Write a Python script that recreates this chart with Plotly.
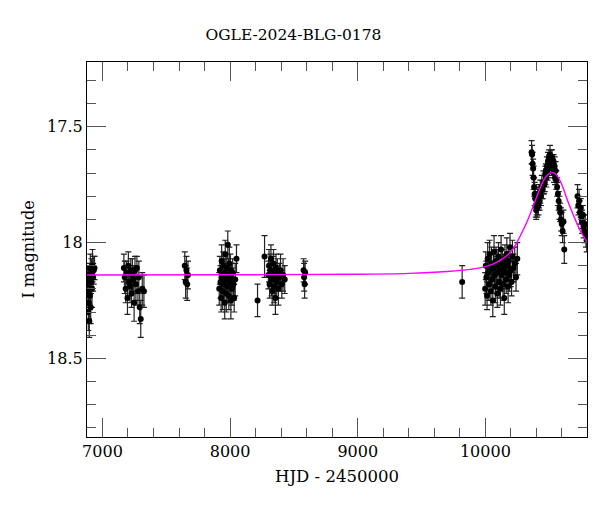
import plotly.graph_objects as go

# ---- data (HJD - 2450000, I mag, error) ----
tA = [6884, 6887, 6889, 6892, 6894, 6897, 6899, 6902, 6905, 6908, 6911, 6914, 6918, 6922, 6927, 6932, 6938]
mA = [18.16, 18.21, 18.30, 18.18, 18.26, 18.34, 18.14, 18.23, 18.11, 18.28, 18.17, 18.13, 18.20, 18.10, 18.15, 18.12, 18.11]
eA = [0.06, 0.07, 0.08, 0.06, 0.07, 0.07, 0.05, 0.06, 0.06, 0.07, 0.05, 0.06, 0.08, 0.07, 0.06, 0.06, 0.05]

tB = [7168, 7175, 7182, 7190, 7196, 7203, 7210, 7216, 7222, 7228, 7235, 7241, 7248, 7255, 7262, 7270, 7278, 7285, 7292, 7300, 7312, 7325]
mB = [18.11, 18.15, 18.20, 18.13, 18.24, 18.10, 18.17, 18.19, 18.12, 18.22, 18.14, 18.16, 18.26, 18.12, 18.18, 18.11, 18.21, 18.15, 18.28, 18.33, 18.20, 18.21]
eB = [0.06, 0.07, 0.06, 0.05, 0.07, 0.06, 0.06, 0.07, 0.05, 0.06, 0.07, 0.06, 0.08, 0.06, 0.07, 0.05, 0.06, 0.07, 0.07, 0.08, 0.07, 0.07]

tC = [7645, 7652, 7658, 7664, 7670]
mC = [18.10, 18.17, 18.12, 18.18, 18.14]
eC = [0.06, 0.07, 0.06, 0.07, 0.06]

tD = [7915, 7920, 7925, 7930, 7934, 7938, 7942, 7946, 7950, 7954, 7958, 7962, 7966, 7970, 7974,
      7978, 7982, 7986, 7990, 7994, 7998, 8002, 8006, 8010, 8015, 8020, 8026, 8032, 8040, 8050]
mD = [18.20, 18.12, 18.17, 18.24, 18.08, 18.15, 18.21, 18.10, 18.18, 18.13, 18.26, 18.05, 18.16, 18.22, 18.11,
      18.19, 18.01, 18.14, 18.23, 18.09, 18.17, 18.12, 18.25, 18.15, 18.20, 18.13, 18.18, 18.24, 18.16, 18.07]
eD = [0.07, 0.06, 0.07, 0.06, 0.07, 0.06, 0.08, 0.06, 0.07, 0.06, 0.07, 0.06, 0.07, 0.08, 0.06,
      0.07, 0.06, 0.07, 0.06, 0.07, 0.06, 0.07, 0.08, 0.06, 0.07, 0.06, 0.07, 0.06, 0.07, 0.06]

tE = [8215, 8270, 8300, 8305, 8310, 8315, 8320, 8325, 8330, 8335, 8340, 8345, 8350, 8355, 8360,
      8365, 8370, 8378, 8386, 8395, 8405, 8415, 8428]
mE = [18.25, 18.06, 18.14, 18.10, 18.18, 18.12, 18.07, 18.16, 18.21, 18.13, 18.09, 18.19, 18.15, 18.24, 18.11,
      18.17, 18.13, 18.20, 18.15, 18.12, 18.18, 18.14, 18.16]
eE = [0.07, 0.09, 0.06, 0.07, 0.06, 0.07, 0.06, 0.07, 0.06, 0.07, 0.06, 0.07, 0.06, 0.07, 0.06,
      0.07, 0.06, 0.07, 0.06, 0.07, 0.06, 0.07, 0.06]

tF = [8576, 8580, 8584, 8588]
mF = [18.12, 18.15, 18.18, 18.13]
eF = [0.05, 0.06, 0.06, 0.05]

tG = [9818]
mG = [18.17]
eG = [0.07]

tH = [9998, 10003, 10008, 10013, 10018, 10023, 10028, 10033, 10038, 10043, 10048, 10053, 10058, 10063, 10068,
      10073, 10078, 10083, 10088, 10093, 10098, 10103, 10108, 10113, 10118, 10123, 10128, 10133, 10138, 10143,
      10148, 10153, 10158, 10163, 10168, 10173, 10178, 10183, 10188, 10193, 10198, 10205, 10212, 10220, 10230,
      10240, 10250]
mH = [18.20, 18.10, 18.15, 18.23, 18.07, 18.13, 18.18, 18.05, 18.12, 18.21, 18.09, 18.16, 18.25, 18.11, 18.04,
      18.14, 18.19, 18.08, 18.13, 18.22, 18.10, 18.06, 18.17, 18.12, 18.20, 18.03, 18.14, 18.09, 18.18, 18.11,
      18.24, 18.07, 18.13, 18.16, 18.05, 18.10, 18.19, 18.08, 18.14, 18.02, 18.12, 18.17, 18.06, 18.11, 18.09,
      18.15, 18.07]
eH = [0.07, 0.06, 0.07, 0.06, 0.07, 0.06, 0.07, 0.06, 0.07, 0.06, 0.07, 0.06, 0.07, 0.06, 0.07,
      0.06, 0.07, 0.06, 0.07, 0.06, 0.07, 0.06, 0.07, 0.06, 0.07, 0.06, 0.07, 0.06, 0.07, 0.06,
      0.07, 0.06, 0.07, 0.06, 0.07, 0.06, 0.07, 0.06, 0.07, 0.06, 0.07, 0.06, 0.07, 0.06, 0.07,
      0.06, 0.07]

tI = [10362, 10366, 10370, 10374, 10378, 10382, 10386, 10390, 10394, 10398, 10402, 10406, 10410, 10415,
      10420, 10425, 10430, 10436, 10442, 10448, 10455, 10460]
mI = [17.61, 17.62, 17.66, 17.68, 17.72, 17.76, 17.79, 17.81, 17.84, 17.86, 17.83, 17.85, 17.81, 17.84,
      17.80, 17.82, 17.78, 17.80, 17.76, 17.77, 17.74, 17.75]
eI = [0.05, 0.04, 0.05, 0.04, 0.05, 0.04, 0.05, 0.04, 0.05, 0.04, 0.05, 0.04, 0.05, 0.04,
      0.05, 0.04, 0.05, 0.04, 0.05, 0.04, 0.05, 0.04]

tJ = [10465, 10470, 10474, 10478, 10482, 10486, 10490, 10494, 10498, 10502, 10506, 10510, 10514, 10518,
      10522, 10526, 10530, 10534, 10538, 10542, 10546, 10550]
mJ = [17.74, 17.71, 17.69, 17.72, 17.67, 17.70, 17.65, 17.68, 17.63, 17.66, 17.62, 17.65, 17.64, 17.67,
      17.63, 17.66, 17.68, 17.65, 17.70, 17.67, 17.72, 17.69]
eJ = [0.04, 0.04, 0.03, 0.04, 0.04, 0.03, 0.04, 0.04, 0.03, 0.04, 0.04, 0.03, 0.04, 0.04,
      0.03, 0.04, 0.04, 0.03, 0.04, 0.04, 0.03, 0.04]

tK = [10556, 10562, 10568, 10574, 10580, 10586, 10592, 10598, 10605, 10612, 10618]
mK = [17.73, 17.76, 17.79, 17.82, 17.85, 17.87, 17.90, 17.92, 17.95, 17.91, 18.03]
eK = [0.04, 0.04, 0.05, 0.04, 0.05, 0.04, 0.05, 0.05, 0.05, 0.05, 0.06]

tL = [10722, 10728, 10734, 10740, 10746, 10752, 10758, 10764, 10770, 10776, 10782, 10788, 10794]
mL = [17.80, 17.84, 17.82, 17.87, 17.85, 17.89, 17.91, 17.88, 17.93, 17.95, 17.92, 17.97, 17.99]
eL = [0.05, 0.04, 0.05, 0.05, 0.04, 0.05, 0.05, 0.04, 0.05, 0.05, 0.04, 0.05, 0.05]

# ---- model curve ----
tModel = [6879, 8000, 9000, 9400, 9700, 9900, 10000, 10100, 10200, 10270, 10330, 10390, 10430, 10460,
          10490, 10510, 10525, 10540, 10560, 10585, 10610, 10650, 10690, 10740, 10796]
mModel = [18.140, 18.139, 18.137, 18.133, 18.125, 18.115, 18.104, 18.082, 18.040, 17.975, 17.905, 17.820,
          17.762, 17.727, 17.706, 17.699, 17.698, 17.700, 17.710, 17.733, 17.765, 17.828, 17.882, 17.945, 17.998]

xTicks = [7000, 8000, 9000, 10000]
xTickText = ["7000", "8000", "9000", "10000"]
yTicks = [17.5, 18, 18.5]
yTickText = ["17.5", "18", "18.5"]

hjd = tA + tB + tC + tD + tE + tF + tG + tH + tI + tJ + tK + tL
mag = mA + mB + mC + mD + mE + mF + mG + mH + mI + mJ + mK + mL
err = eA + eB + eC + eD + eE + eF + eG + eH + eI + eJ + eK + eL

FONT = "DejaVu Serif"

fig = go.Figure()
fig.add_trace(go.Scatter(
    x=hjd, y=mag, mode="markers",
    marker=dict(color="black", size=6),
    error_y=dict(type="data", array=err, visible=True, color="#222222", thickness=1.2, width=3),
    showlegend=False))
fig.add_trace(go.Scatter(
    x=tModel, y=mModel, mode="lines", line=dict(color="#ff00ff", width=1.4, shape="spline", smoothing=1.0),
    hoverinfo="skip", showlegend=False))

axis_common = dict(
    showline=True, linecolor="black", linewidth=1.2, mirror="ticks",
    ticks="inside", ticklen=19, tickcolor="#555555", tickwidth=1,
    showgrid=False, zeroline=False, automargin=False,
    tickfont=dict(family=FONT, size=16, color="black"),
)

# page body has an 8px margin, so the figure is 592x504 and sits at (8, 8)
fig.update_layout(
    width=592, height=504,
    margin=dict(l=79, r=13, t=54, b=75, autoexpand=False),
    plot_bgcolor="white", paper_bgcolor="white",
    title=dict(text="OGLE-2024-BLG-0178", x=285.5 / 592, xanchor="center", y=1 - 27 / 504, yanchor="middle",
               yref="container", font=dict(family=FONT, size=15.5, color="black")),
    xaxis=dict(range=[6879, 10796], tickvals=xTicks, ticktext=xTickText,
               minor=dict(ticks="inside", dtick=200, tick0=0, ticklen=9, tickcolor="#555555", showgrid=False),
               title=dict(text="HJD - 2450000", font=dict(family=FONT, size=16.5, color="black"), standoff=10),
               **axis_common),
    yaxis=dict(range=[18.84, 17.22], tickvals=yTicks, ticktext=yTickText,
               minor=dict(ticks="inside", dtick=0.1, tick0=0, ticklen=9, tickcolor="#555555", showgrid=False),
               title=dict(text="I magnitude", font=dict(family=FONT, size=16, color="black"), standoff=8),
               **axis_common),
)

fig.write_html("out.html")
